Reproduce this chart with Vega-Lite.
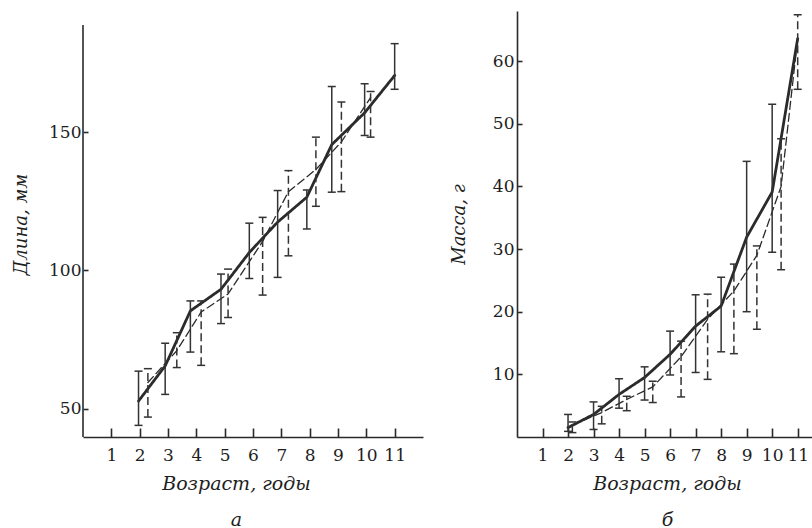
{
  "$schema": "https://vega.github.io/schema/vega-lite/v6.json",
  "background": "white",
  "padding": {"left": 12, "top": 11, "right": 0, "bottom": 0},
  "config": {
    "font": "DejaVu Serif",
    "view": {"stroke": null},
    "concat": {"spacing": 27},
    "axis": {
      "grid": false,
      "domainColor": "#2a2a2a",
      "domainWidth": 1.6,
      "tickColor": "#2a2a2a",
      "tickWidth": 1.6,
      "labelFont": "DejaVu Serif",
      "labelFontSize": 17,
      "labelColor": "#1e1e1e",
      "labelOverlap": false,
      "titleFont": "DejaVu Serif",
      "titleFontStyle": "italic",
      "titleFontWeight": "normal",
      "titleFontSize": 18,
      "titleColor": "#1e1e1e"
    }
  },
  "datasets": {
    "length": [
      {"age": 1.96, "mean": 52.8, "lo": 44.0, "hi": 63.6, "series": "solid"},
      {"age": 2.9, "mean": 65.5, "lo": 55.2, "hi": 73.7, "series": "solid"},
      {"age": 3.79, "mean": 85.4, "lo": 70.5, "hi": 89.0, "series": "solid"},
      {"age": 4.87, "mean": 93.2, "lo": 80.8, "hi": 98.7, "series": "solid"},
      {"age": 5.87, "mean": 106.5, "lo": 97.1, "hi": 117.1, "series": "solid"},
      {"age": 6.87, "mean": 117.5, "lo": 97.5, "hi": 128.9, "series": "solid"},
      {"age": 7.9, "mean": 126.5, "lo": 115.0, "hi": 129.1, "series": "solid"},
      {"age": 8.78, "mean": 145.5, "lo": 128.3, "hi": 166.5, "series": "solid"},
      {"age": 9.94, "mean": 157.0, "lo": 148.8, "hi": 167.5, "series": "solid"},
      {"age": 11.0, "mean": 170.5, "lo": 165.5, "hi": 182.0, "series": "solid"},
      {"age": 2.29, "mean": 59.5, "lo": 47.0, "hi": 64.5, "series": "dashed"},
      {"age": 3.31, "mean": 71.0, "lo": 64.9, "hi": 77.5, "series": "dashed"},
      {"age": 4.17, "mean": 85.0, "lo": 65.7, "hi": 89.0, "series": "dashed"},
      {"age": 5.12, "mean": 91.5, "lo": 83.0, "hi": 100.5, "series": "dashed"},
      {"age": 6.34, "mean": 110.5, "lo": 91.1, "hi": 119.2, "series": "dashed"},
      {"age": 7.25, "mean": 128.5, "lo": 105.3, "hi": 136.1, "series": "dashed"},
      {"age": 8.22, "mean": 136.5, "lo": 123.2, "hi": 148.2, "series": "dashed"},
      {"age": 9.12, "mean": 146.5, "lo": 128.5, "hi": 160.9, "series": "dashed"},
      {"age": 10.15, "mean": 162.5, "lo": 148.2, "hi": 164.7, "series": "dashed"}
    ],
    "mass": [
      {"age": 2.0, "mean": 1.5, "lo": 0.9, "hi": 3.6, "series": "solid"},
      {"age": 3.0, "mean": 3.6, "lo": 1.2, "hi": 5.6, "series": "solid"},
      {"age": 4.0, "mean": 6.8, "lo": 4.6, "hi": 9.3, "series": "solid"},
      {"age": 5.0, "mean": 9.5, "lo": 5.9, "hi": 11.2, "series": "solid"},
      {"age": 6.0, "mean": 13.2, "lo": 9.9, "hi": 16.9, "series": "solid"},
      {"age": 7.0, "mean": 17.7, "lo": 10.3, "hi": 22.7, "series": "solid"},
      {"age": 8.0, "mean": 20.9, "lo": 13.6, "hi": 25.5, "series": "solid"},
      {"age": 9.0, "mean": 31.9, "lo": 20.0, "hi": 44.0, "series": "solid"},
      {"age": 10.0, "mean": 39.1, "lo": 29.5, "hi": 53.1, "series": "solid"},
      {"age": 11.0, "mean": 63.6, "lo": null, "hi": null, "series": "solid"},
      {"age": 2.17, "mean": 1.9, "lo": 0.7, "hi": 2.4, "series": "dashed"},
      {"age": 3.32, "mean": 3.9, "lo": 2.1, "hi": 4.9, "series": "dashed"},
      {"age": 4.3, "mean": 6.0, "lo": 4.2, "hi": 6.5, "series": "dashed"},
      {"age": 5.32, "mean": 8.0, "lo": 5.5, "hi": 8.9, "series": "dashed"},
      {"age": 6.43, "mean": 12.8, "lo": 6.4, "hi": 15.3, "series": "dashed"},
      {"age": 7.47, "mean": 18.8, "lo": 9.2, "hi": 22.8, "series": "dashed"},
      {"age": 8.5, "mean": 23.3, "lo": 13.3, "hi": 27.6, "series": "dashed"},
      {"age": 9.4, "mean": 29.0, "lo": 17.2, "hi": 30.5, "series": "dashed"},
      {"age": 10.35, "mean": 40.0, "lo": 26.7, "hi": 47.6, "series": "dashed"},
      {"age": 11.0, "mean": 63.6, "lo": 55.5, "hi": 67.4, "series": "dashed"}
    ]
  },
  "hconcat": [
    {
      "width": 340,
      "height": 426,
      "data": {"name": "length"},
      "layer": [
        {
          "mark": {"type": "line", "color": "#2b2b2b", "strokeCap": "round", "strokeJoin": "round"},
          "encoding": {
            "x": {
              "field": "age", "type": "quantitative",
              "scale": {"domain": [0, 12], "nice": false, "zero": false},
              "axis": {
                "values": [1, 2, 3, 4, 5, 6, 7, 8, 9, 10, 11],
                "tickCount": 12,
                "labelOverlap": false,
                "tickSize": -9,
                "labelPadding": 19,
                "title": ["Возраст, годы", "а"],
                "titleLineHeight": 36,
                "titlePadding": 11,
                "titleX": 153,
                "titleFontSize": 19
              }
            },
            "y": {
              "field": "mean", "type": "quantitative",
              "scale": {"domain": [39.8, 193.8], "nice": false, "zero": false},
              "axis": {
                "values": [50, 100, 150],
                "labelOverlap": false,
                "domain": false,
                "tickSize": -5,
                "labelPadding": 7,
                "title": "Длина, мм",
                "titlePadding": 18
              }
            },
            "detail": {"field": "series"},
            "strokeDash": {"field": "series", "type": "nominal", "scale": {"domain": ["solid", "dashed"], "range": [[1, 0], [8, 4]]}, "legend": null},
            "strokeWidth": {"field": "series", "type": "nominal", "scale": {"domain": ["solid", "dashed"], "range": [2.8, 1.3]}, "legend": null}
          }
        },
        {
          "data": {"values": [{}]},
          "mark": {"type": "rule", "color": "#2a2a2a", "strokeWidth": 1.6},
          "encoding": {
            "x": {"datum": 0, "type": "quantitative"},
            "y": {"datum": 39.8, "type": "quantitative"},
            "y2": {"datum": 188.7}
          }
        },
        {
          "transform": [{"filter": "isValid(datum.lo)"}],
          "mark": {"type": "rule", "color": "#333", "strokeWidth": 1.5},
          "encoding": {
            "x": {"field": "age", "type": "quantitative"},
            "y": {"field": "lo", "type": "quantitative"},
            "y2": {"field": "hi"},
            "strokeDash": {"field": "series", "type": "nominal", "scale": {"domain": ["solid", "dashed"], "range": [[1, 0], [4, 2]]}, "legend": null}
          }
        },
        {
          "transform": [{"filter": "isValid(datum.lo)"}],
          "mark": {"type": "tick", "orient": "horizontal", "size": 8, "thickness": 1.5, "color": "#333", "opacity": 1},
          "encoding": {
            "x": {"field": "age", "type": "quantitative"},
            "y": {"field": "lo", "type": "quantitative"}
          }
        },
        {
          "transform": [{"filter": "isValid(datum.hi)"}],
          "mark": {"type": "tick", "orient": "horizontal", "size": 8, "thickness": 1.5, "color": "#333", "opacity": 1},
          "encoding": {
            "x": {"field": "age", "type": "quantitative"},
            "y": {"field": "hi", "type": "quantitative"}
          }
        }
      ]
    },
    {
      "width": 296,
      "height": 426,
      "data": {"name": "mass"},
      "layer": [
        {
          "mark": {"type": "line", "color": "#2b2b2b", "strokeCap": "round", "strokeJoin": "round"},
          "encoding": {
            "x": {
              "field": "age", "type": "quantitative",
              "scale": {"domain": [0, 11.6], "nice": false, "zero": false},
              "axis": {
                "values": [1, 2, 3, 4, 5, 6, 7, 8, 9, 10, 11],
                "tickCount": 12,
                "labelOverlap": false,
                "tickSize": -9,
                "labelPadding": 19,
                "title": ["Возраст, годы", "б"],
                "titleLineHeight": 36,
                "titlePadding": 11,
                "titleX": 150,
                "titleFontSize": 19
              }
            },
            "y": {
              "field": "mean", "type": "quantitative",
              "scale": {"domain": [0, 68], "nice": false, "zero": false},
              "axis": {
                "values": [10, 20, 30, 40, 50, 60],
                "labelOverlap": false,
                "tickSize": -5,
                "labelPadding": 8,
                "title": "Масса, г",
                "titlePadding": 24
              }
            },
            "detail": {"field": "series"},
            "strokeDash": {"field": "series", "type": "nominal", "scale": {"domain": ["solid", "dashed"], "range": [[1, 0], [8, 4]]}, "legend": null},
            "strokeWidth": {"field": "series", "type": "nominal", "scale": {"domain": ["solid", "dashed"], "range": [2.8, 1.3]}, "legend": null}
          }
        },
        {
          "transform": [{"filter": "isValid(datum.lo)"}],
          "mark": {"type": "rule", "color": "#333", "strokeWidth": 1.5},
          "encoding": {
            "x": {"field": "age", "type": "quantitative"},
            "y": {"field": "lo", "type": "quantitative"},
            "y2": {"field": "hi"},
            "strokeDash": {"field": "series", "type": "nominal", "scale": {"domain": ["solid", "dashed"], "range": [[1, 0], [4, 2]]}, "legend": null}
          }
        },
        {
          "transform": [{"filter": "isValid(datum.lo)"}],
          "mark": {"type": "tick", "orient": "horizontal", "size": 8, "thickness": 1.5, "color": "#333", "opacity": 1},
          "encoding": {
            "x": {"field": "age", "type": "quantitative"},
            "y": {"field": "lo", "type": "quantitative"}
          }
        },
        {
          "transform": [{"filter": "isValid(datum.hi)"}],
          "mark": {"type": "tick", "orient": "horizontal", "size": 8, "thickness": 1.5, "color": "#333", "opacity": 1},
          "encoding": {
            "x": {"field": "age", "type": "quantitative"},
            "y": {"field": "hi", "type": "quantitative"}
          }
        }
      ]
    }
  ]
}
